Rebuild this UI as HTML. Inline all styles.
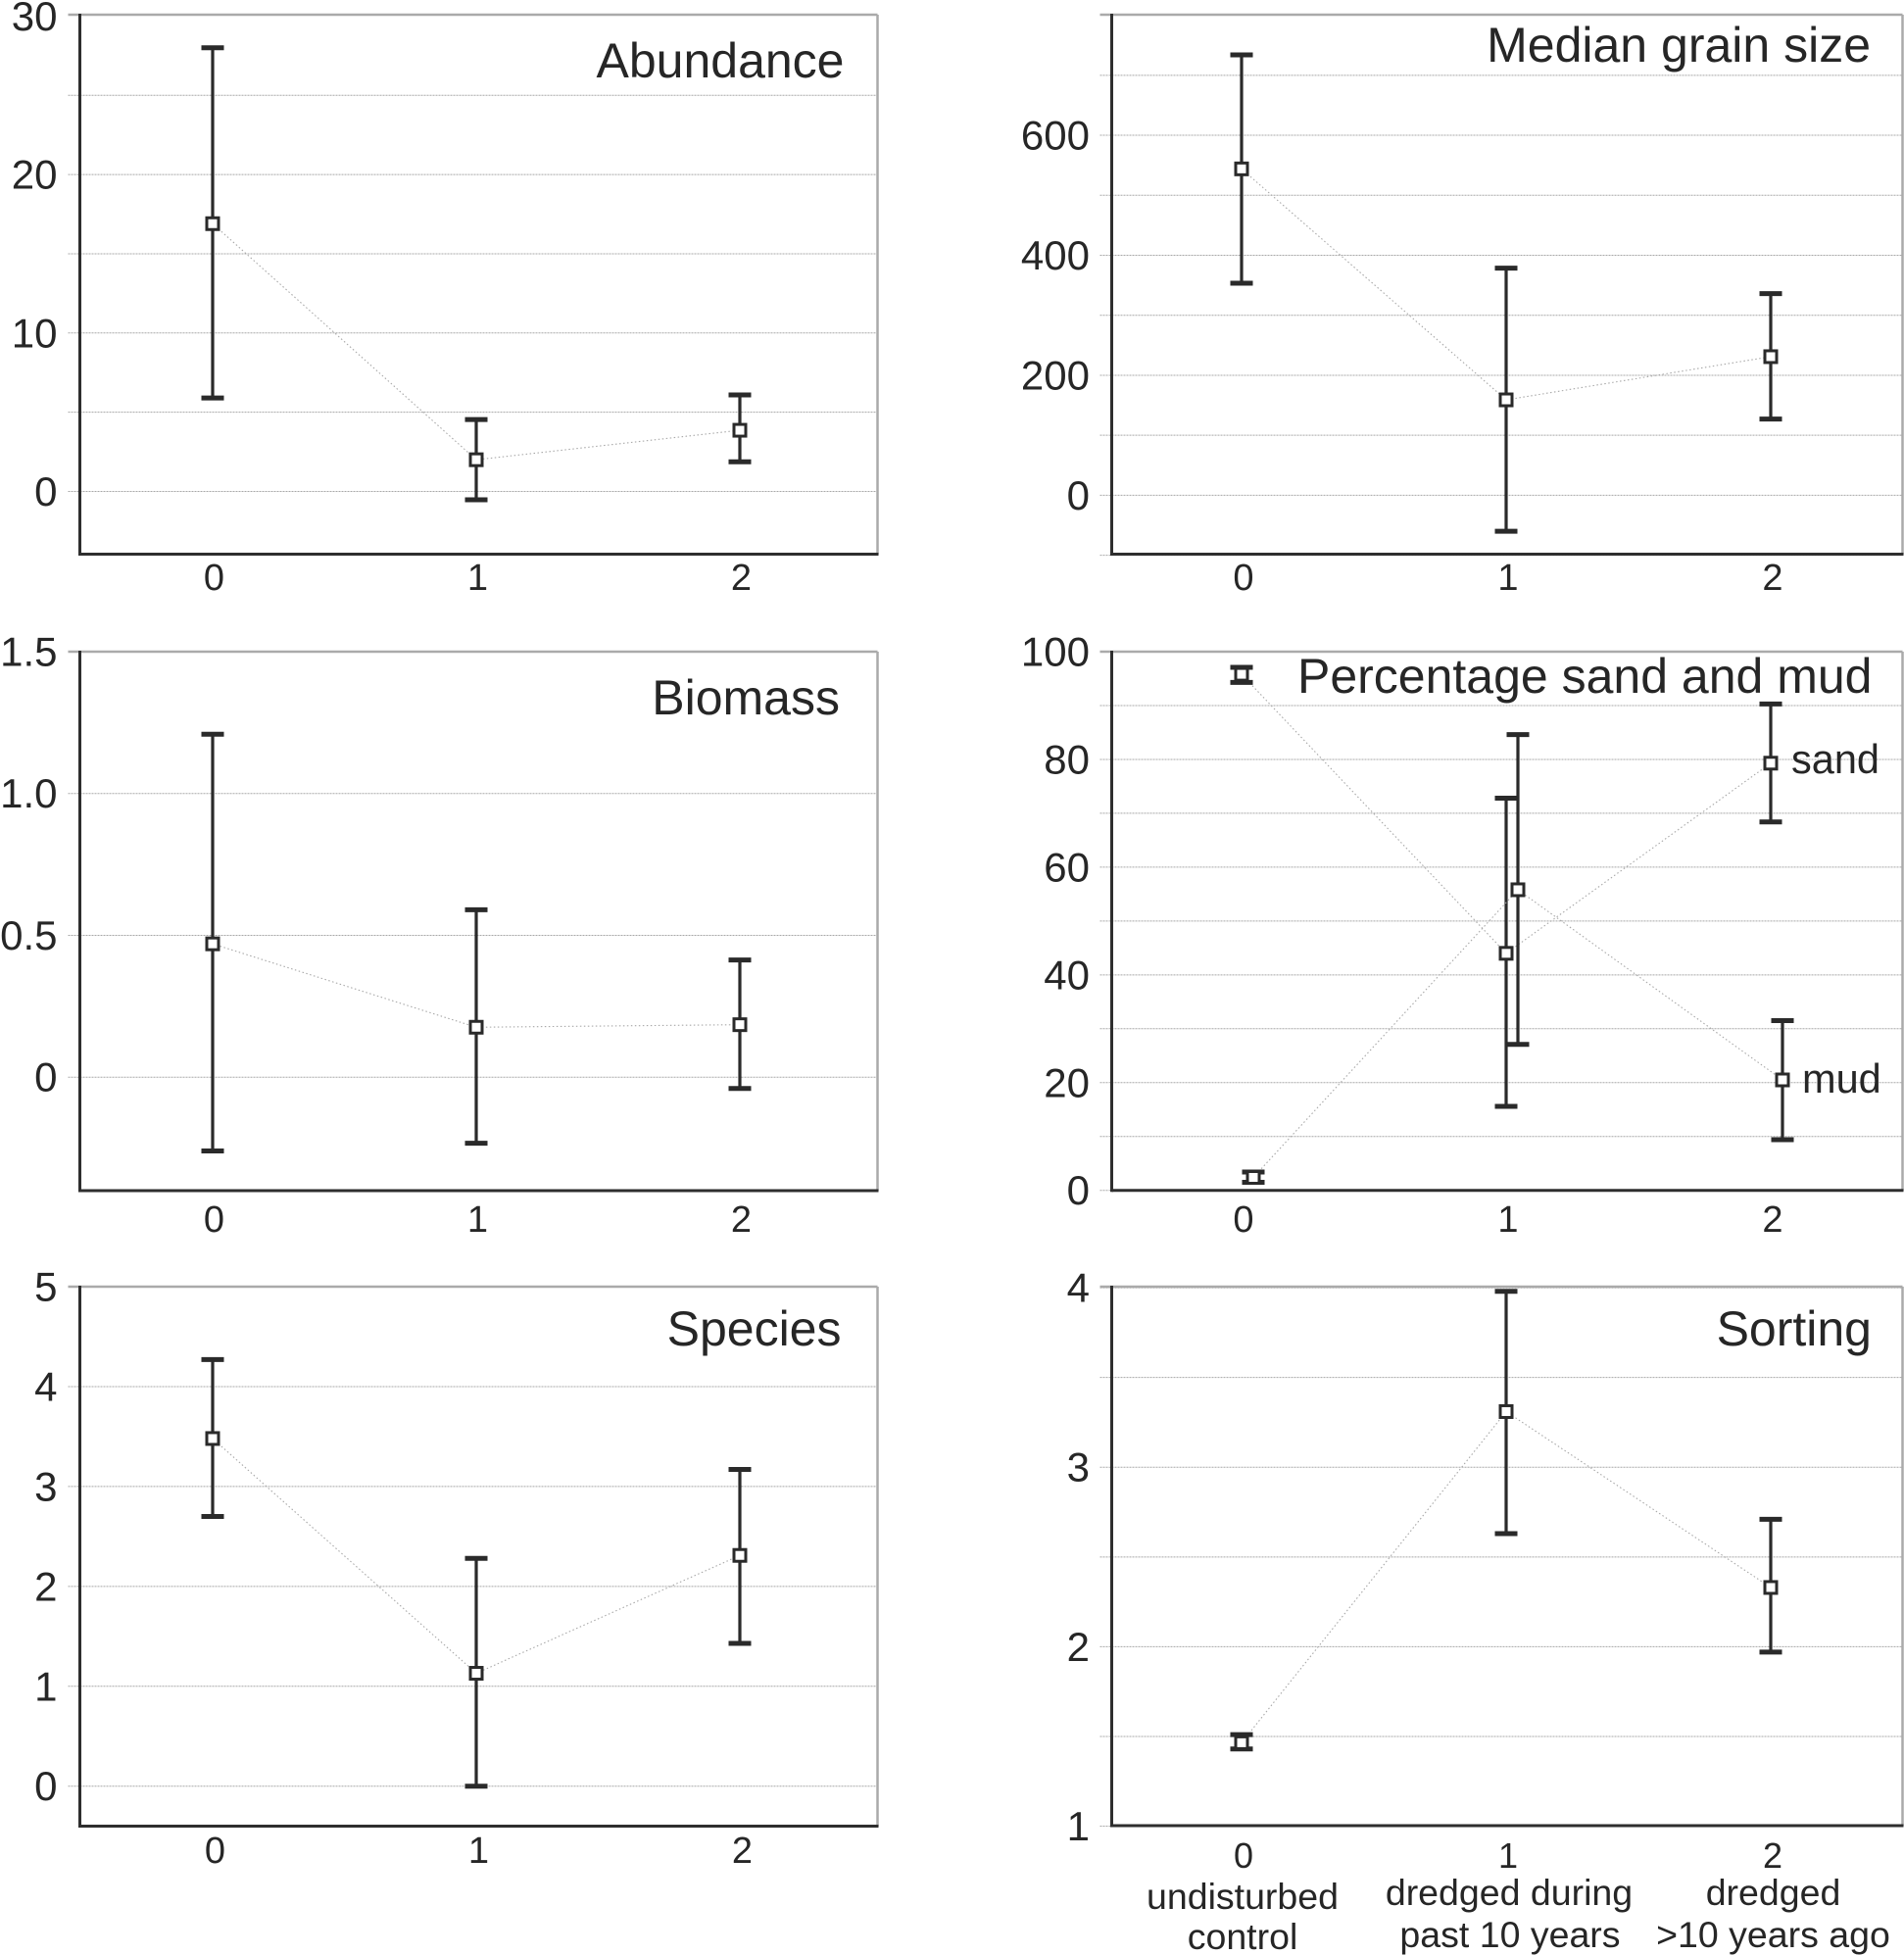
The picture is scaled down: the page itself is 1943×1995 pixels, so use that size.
<!DOCTYPE html>
<html lang="en">
<head>
<meta charset="utf-8">
<title>Benthic and sediment variables by dredging category</title>
<style>
html,body{margin:0;padding:0;background:#fff;}
svg{display:block;}
text{font-family:"Liberation Sans",sans-serif;fill:#262626;}
.ytick{font-size:42px;text-anchor:end;}
.xtick{text-anchor:middle;}
.cat{font-size:37.5px;text-anchor:middle;}
.title{font-size:50px;text-anchor:end;}
.series{font-size:41.5px;}
</style>
</head>
<body>
<svg id="chart" width="1943" height="1995" viewBox="0 0 1943 1995" xmlns="http://www.w3.org/2000/svg">
  <rect x="0" y="0" width="1943" height="1995" fill="#fff"/>
  <g id="abundance"></g>
  <g id="grain"></g>
  <g id="biomass"></g>
  <g id="sandmud"></g>
  <g id="species"></g>
  <g id="sorting"></g>

  <text class="title" x="861.5" y="79">Abundance</text>
  <text class="title" x="1909" y="63">Median grain size</text>
  <text class="title" x="857" y="729">Biomass</text>
  <text class="title" x="1910.5" y="707">Percentage sand and mud</text>
  <text class="title" x="858.5" y="1373">Species</text>
  <text class="title" x="1910" y="1373">Sorting</text>
  <text class="series" x="1828" y="789">sand</text>
  <text class="series" x="1839" y="1115">mud</text>

  <text class="cat" x="1268" y="1948">undisturbed</text>
  <text class="cat" x="1268" y="1989">control</text>
  <text class="cat" x="1540" y="1944">dredged during</text>
  <text class="cat" x="1541" y="1987">past 10 years</text>
  <text class="cat" x="1809.5" y="1944">dredged</text>
  <text class="cat" x="1809.5" y="1987">&gt;10 years ago</text>
</svg>
<script>
// ---- chart data ----
const categories = [0, 1, 2];

const abundanceMean = [16.9, 2.0, 3.86];
const abundanceUpper = [28.0, 4.54, 6.09];
const abundanceLower = [5.9, -0.53, 1.87];
const abundanceGrid = [0, 5, 10, 15, 20, 25];
const abundanceLabels = [0, 10, 20, 30];

const grainMean = [544, 159, 231];
const grainUpper = [734, 378.6, 336];
const grainLower = [353.4, -60, 127];
const grainGrid = [-100, 0, 100, 200, 300, 400, 500, 600, 700];
const grainLabels = [0, 200, 400, 600];

const biomassMean = [0.47, 0.176, 0.185];
const biomassUpper = [1.209, 0.59, 0.413];
const biomassLower = [-0.26, -0.233, -0.04];
const biomassGrid = [0, 0.5, 1.0, 1.5];
const biomassLabels = ['0', '0.5', '1.0', '1.5'];

const sandMean = [95.8, 44.0, 79.3];
const sandUpper = [97.1, 72.8, 90.3];
const sandLower = [94.3, 15.6, 68.4];
const mudMean = [2.4, 55.8, 20.5];
const mudUpper = [3.4, 84.6, 31.5];
const mudLower = [1.5, 27.1, 9.4];
const sandMudGrid = [0, 10, 20, 30, 40, 50, 60, 70, 80, 90, 100];
const sandMudLabels = [0, 20, 40, 60, 80, 100];

const speciesMean = [3.48, 1.13, 2.31];
const speciesUpper = [4.27, 2.28, 3.17];
const speciesLower = [2.70, 0.0, 1.43];
const speciesGrid = [0, 1, 2, 3, 4, 5];
const speciesLabels = [0, 1, 2, 3, 4, 5];

const sortingMean = [1.465, 3.31, 2.33];
const sortingUpper = [1.51, 3.98, 2.71];
const sortingLower = [1.43, 2.63, 1.97];
const sortingGrid = [1, 1.5, 2, 2.5, 3, 3.5, 4];
const sortingLabels = [1, 2, 3, 4];

// ---- drawing ----
const NS = 'http://www.w3.org/2000/svg';
function make(tag, attrs, parent) {
  const el = document.createElementNS(NS, tag);
  for (const k in attrs) el.setAttribute(k, attrs[k]);
  parent.appendChild(el);
  return el;
}

function drawPanel(cfg) {
  const root = document.getElementById(cfg.id);
  const x = c => cfg.x0 + (c - 0) * cfg.dx;
  const y = v => cfg.top + (cfg.yMax - v) / (cfg.yMax - cfg.yMin) * (cfg.bottom - cfg.top);

  cfg.grid.forEach(v => {
    const g = make('line', {x1: cfg.left - 12, x2: cfg.right, y1: y(v), y2: y(v), stroke: '#a8a8a8', 'stroke-width': 1, 'stroke-dasharray': '2 1'}, root);
    
    
  });

  const topAxis = make('line', {x1: cfg.left - 12, x2: cfg.right, y1: cfg.top, y2: cfg.top, stroke: '#aaa', 'stroke-width': 2.5}, root);
  
  
  const rightAxis = make('line', {x1: cfg.right, x2: cfg.right, y1: cfg.top, y2: cfg.bottom, stroke: '#aaa', 'stroke-width': 2.5}, root);
  
  
  const leftAxis = make('line', {x1: cfg.left, x2: cfg.left, y1: cfg.top - 1, y2: cfg.bottom + 1.5, stroke: '#2e2e2e', 'stroke-width': 3}, root);
  
  
  const bottomAxis = make('line', {x1: cfg.left, x2: cfg.right + 1, y1: cfg.bottom, y2: cfg.bottom, stroke: '#2e2e2e', 'stroke-width': 3}, root);
  
  

  cfg.yLabels.forEach(v => {
    const t = make('text', {class: 'ytick', x: cfg.labelRight, y: y(Number(v)) + 14.5}, root);
    t.textContent = v;
    
    
  });

  categories.forEach(c => {
    const t = make('text', {class: 'xtick', x: x(c) + cfg.xLabelShift, y: cfg.xLabelY, 'font-size': cfg.xLabelSize}, root);
    t.textContent = c;
    
    
  });

  cfg.series.forEach(s => {
    const sx = c => x(c) + s.dodge;
    const pts = categories.map((c, i) => sx(c) + ',' + y(s.mean[i])).join(' ');
    const line = make('polyline', {points: pts, fill: 'none', stroke: '#a8a8a8', 'stroke-width': 1.1, 'stroke-dasharray': '1.5 2.5'}, root);
    
    

    categories.forEach((c, i) => {
      const px = sx(c);
      const stem = make('line', {x1: px, x2: px, y1: y(s.upper[i]), y2: y(s.lower[i]), stroke: '#2a2a2a', 'stroke-width': 3.2}, root);
      
      
      const capTop = make('line', {x1: px - 11.5, x2: px + 11.5, y1: y(s.upper[i]), y2: y(s.upper[i]), stroke: '#2a2a2a', 'stroke-width': 5}, root);
      
      
      const capBottom = make('line', {x1: px - 11.5, x2: px + 11.5, y1: y(s.lower[i]), y2: y(s.lower[i]), stroke: '#2a2a2a', 'stroke-width': 5}, root);
      
      
      const marker = make('rect', {x: px - 6, y: y(s.mean[i]) - 6, width: 12, height: 12, fill: '#fff', stroke: '#2a2a2a', 'stroke-width': 3}, root);
      
      
    });
  });
}

const leftCol = {left: 81.5, right: 895.5, x0: 217, dx: 269, labelRight: 58.5, xLabelShift: 1.5, xLabelSize: 38};
const rightCol = {left: 1134.5, right: 1941.5, x0: 1267, dx: 270, labelRight: 1112, xLabelShift: 2, xLabelSize: 38};

drawPanel({...leftCol, id: 'abundance', top: 15, bottom: 565.5, yMin: -3.96, yMax: 30.09, grid: abundanceGrid, yLabels: abundanceLabels, xLabelY: 602,
  series: [{mean: abundanceMean, upper: abundanceUpper, lower: abundanceLower, dodge: 0}]});
drawPanel({...rightCol, id: 'grain', top: 15, bottom: 565.5, yMin: -98.2, yMax: 801, grid: grainGrid, yLabels: grainLabels, xLabelY: 602,
  series: [{mean: grainMean, upper: grainUpper, lower: grainLower, dodge: 0}]});
drawPanel({...leftCol, id: 'biomass', top: 665, bottom: 1215, yMin: -0.4, yMax: 1.5, grid: biomassGrid, yLabels: biomassLabels, xLabelY: 1257,
  series: [{mean: biomassMean, upper: biomassUpper, lower: biomassLower, dodge: 0}]});
drawPanel({...rightCol, id: 'sandmud', top: 665, bottom: 1214.7, yMin: 0, yMax: 100, grid: sandMudGrid, yLabels: sandMudLabels, xLabelY: 1257,
  series: [{mean: sandMean, upper: sandUpper, lower: sandLower, dodge: 0},
           {mean: mudMean, upper: mudUpper, lower: mudLower, dodge: 12}]});
drawPanel({...leftCol, id: 'species', top: 1313, bottom: 1863.5, yMin: -0.4, yMax: 5, grid: speciesGrid, yLabels: speciesLabels, xLabelY: 1901, xLabelShift: 2.5,
  series: [{mean: speciesMean, upper: speciesUpper, lower: speciesLower, dodge: 0}]});
drawPanel({...rightCol, id: 'sorting', top: 1313, bottom: 1863, yMin: 1.003, yMax: 4.006, grid: sortingGrid, yLabels: sortingLabels, xLabelY: 1906, xLabelSize: 36,
  series: [{mean: sortingMean, upper: sortingUpper, lower: sortingLower, dodge: 0}]});
</script>
</body>
</html>
